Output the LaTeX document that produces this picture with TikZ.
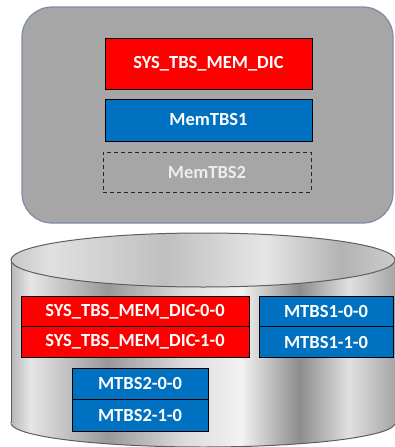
\documentclass[tikz,border=0pt]{standalone}
\usepackage{fontspec}
\setmainfont{Carlito}
\definecolor{boxgray}{HTML}{A6A6A6}
\definecolor{boxedge}{HTML}{7D8DA5}
\definecolor{dicred}{HTML}{FF0000}
\definecolor{tbsblue}{HTML}{0070C0}
\definecolor{cyledge}{HTML}{5E5E5E}
\definecolor{ghost}{HTML}{EDEDED}
\pgfdeclarehorizontalshading{metal}{100bp}{%
  color(0bp)=(black!28);
  color(25bp)=(black!28);
  color(27.5bp)=(black!10);
  color(37.5bp)=(black!40);
  color(47.5bp)=(black!14);
  color(55bp)=(black!5);
  color(62.5bp)=(black!45);
  color(69bp)=(black!12);
  color(75bp)=(black!35);
  color(100bp)=(black!35)}
\pgfdeclarehorizontalshading{metaltop}{100bp}{%
  color(0bp)=(black!22);
  color(25bp)=(black!22);
  color(30bp)=(black!12);
  color(45bp)=(black!25);
  color(58bp)=(black!10);
  color(68bp)=(black!30);
  color(75bp)=(black!20);
  color(100bp)=(black!20)}
\tikzset{
  lbl/.style={font=\fontsize{18.5}{20}\selectfont\bfseries, text=white, inner sep=0pt, anchor=center},
  redbox/.style={lbl, fill=dicred, draw=black, line width=1pt},
  bluebox/.style={lbl, fill=tbsblue, draw=black, line width=1pt},
  ghostbox/.style={lbl, text=ghost, draw=black!85, dash pattern=on 4pt off 3pt, line width=1pt},
}
\begin{document}
\begin{tikzpicture}[x=1pt,y=-1pt]
\useasboundingbox (0,0) rectangle (395,447);
% memory area
\node[draw=boxedge, line width=1.2pt, fill=boxgray, rounded corners=30pt,
      minimum width=371pt, minimum height=216pt, inner sep=0pt] (mem) at (207.5,115) {};
\node[redbox, minimum width=207pt, minimum height=51pt] (dic) at (208.5,63.5) {SYS\_TBS\_MEM\_DIC};
\node[bluebox, minimum width=207pt, minimum height=42pt] (tbs1) at (208.5,120) {MemTBS1};
\node[ghostbox, minimum width=208pt, minimum height=40pt] (tbs2) at (207,172) {MemTBS2};
% disk cylinder
\shade[shading=metal, draw=cyledge, line width=1pt] (203,423) ellipse [x radius=192, y radius=24];
\shade[shading=metal] (11,260) rectangle (395,423);
\draw[cyledge, line width=1pt] (11,260) -- (11,423);
\draw[cyledge, line width=1pt] (395,260) -- (395,423);
\shade[shading=metaltop, draw=cyledge, line width=1pt] (203,260) ellipse [x radius=192, y radius=27];
% disk contents
\node[redbox, minimum width=228pt, minimum height=30.5pt] (d0) at (135,311.5) {SYS\_TBS\_MEM\_DIC-0-0};
\node[redbox, minimum width=228pt, minimum height=30.5pt] (d1) at (135,342) {SYS\_TBS\_MEM\_DIC-1-0};
\node[bluebox, minimum width=134pt, minimum height=30.5pt] (m10) at (326,311.5) {MTBS1-0-0};
\node[bluebox, minimum width=134pt, minimum height=30.5pt] (m11) at (326,342) {MTBS1-1-0};
\node[bluebox, minimum width=136pt, minimum height=31pt] (m20) at (140,383.5) {MTBS2-0-0};
\node[bluebox, minimum width=136pt, minimum height=32pt] (m21) at (140,415) {MTBS2-1-0};
\end{tikzpicture}
\end{document}
